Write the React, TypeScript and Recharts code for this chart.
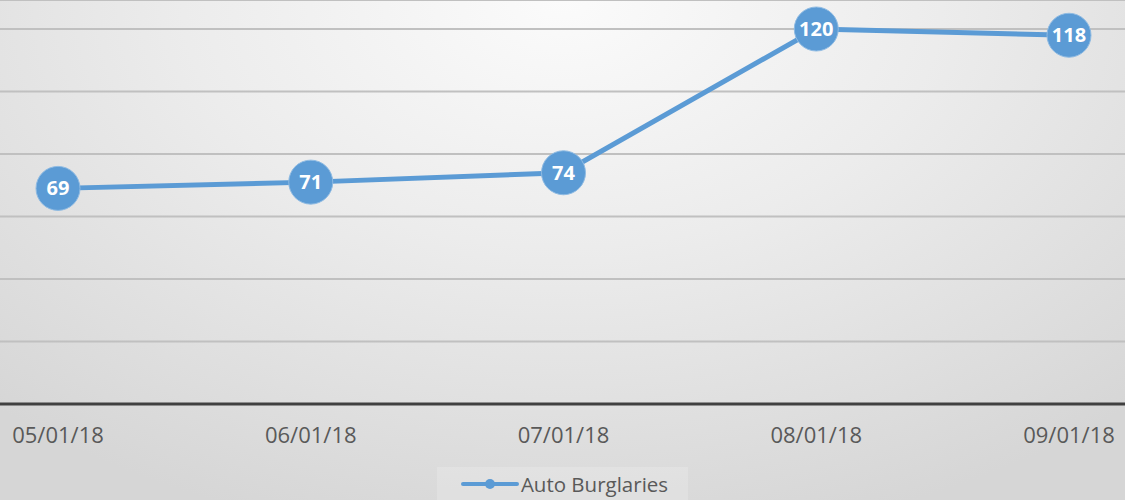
import React from 'react';
import {
    LineChart,
    Line,
    XAxis,
    YAxis,
    CartesianGrid,
    Legend,
    LabelList
} from 'recharts';

const months = ['05/01/18', '06/01/18', '07/01/18', '08/01/18', '09/01/18'];
const burglaries = [69, 71, 74, 120, 118];
const yTicks = [0, 20, 40, 60, 80, 100, 120];

const data = months.map((m, i) => ({ month: m, value: burglaries[i] }));

const BLUE = '#5B9BD5';
const FONT = '"Open Sans", "Noto Sans", sans-serif';

const renderLabel = (props: any) => {
    const { x, y, value } = props;
    return (
        <text
            x={x}
            y={y}
            dy={7}
            textAnchor="middle"
            fill="#ffffff"
            fontSize={20}
            fontWeight={700}
            fontFamily={FONT}
        >
            {value}
        </text>
    );
};

const renderLegend = () => (
    <div style={{ display: 'flex', justifyContent: 'center', paddingTop: 3 }}>
        <div
            style={{
                display: 'flex',
                alignItems: 'center',
                background: 'rgba(255,255,255,0.18)',
                padding: '0 20px 0 24px',
                height: 34,
                fontFamily: FONT,
                fontSize: 20.5,
                color: '#595959'
            }}
        >
            <svg width={58} height={14} style={{ marginRight: 2 }}>
                <line x1={2} y1={7} x2={56} y2={7} stroke={BLUE} strokeWidth={4} strokeLinecap="round" />
                <circle cx={29} cy={7} r={5} fill={BLUE} />
            </svg>
            <span>Auto Burglaries</span>
        </div>
    </div>
);

export default function App() {
    return (
        <div
            style={{
                position: 'absolute',
                left: 0,
                top: 0,
                width: 1125,
                height: 500,
                overflow: 'hidden',
                background: 'radial-gradient(ellipse 75% 110% at 50% 0%, #fbfbfb 0%, #ececec 45%, #d6d6d6 100%)'
            }}
        >
            <LineChart
                width={1125}
                height={500}
                data={data}
                margin={{ top: 0, right: 0, left: 0, bottom: 0 }}
            >
                <CartesianGrid vertical={false} stroke="#c0c0c0" strokeWidth={2} />
                <XAxis
                    dataKey="month"
                    padding={{ left: 58, right: 56 }}
                    height={60}
                    axisLine={{ stroke: '#404040', strokeWidth: 3 }}
                    tickLine={false}
                    tick={{ fontSize: 22, fill: '#595959', fontFamily: FONT }}
                    tickMargin={17}
                    interval={0}
                />
                <YAxis hide domain={[0, 129.28]} ticks={yTicks} />
                <Legend verticalAlign="bottom" height={36} content={renderLegend} />
                <Line
                    type="linear"
                    dataKey="value"
                    stroke={BLUE}
                    strokeWidth={5}
                    dot={{ r: 22, fill: BLUE, stroke: '#8fbbe3', strokeWidth: 1 }}
                    activeDot={false}
                    isAnimationActive={false}
                >
                    <LabelList dataKey="value" content={renderLabel} />
                </Line>
            </LineChart>
        </div>
    );
}
